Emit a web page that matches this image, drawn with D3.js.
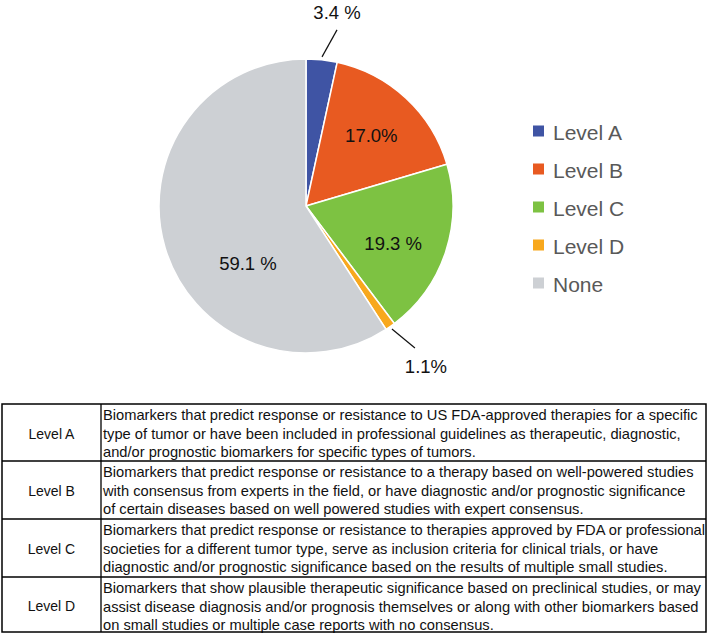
<!DOCTYPE html>
<html>
<head>
<meta charset="utf-8">
<script src="https://cdn.jsdelivr.net/npm/d3@7"></script>
<style>
  body { margin: 0; background: #fff; }
  text { font-family: "Liberation Sans", Arial, sans-serif; }
</style>
</head>
<body>
<div id="chart"></div>
<script>
// Pie data
const levels = ['Level A', 'Level B', 'Level C', 'Level D', 'None']
const shares = [3.4, 17.0, 19.3, 1.1, 59.1]
const shareLabels = ['3.4 %', '17.0%', '19.3 %', '1.1%', '59.1 %']
const colors = ['#3f54a4', '#e85a21', '#7dc242', '#f8a81d', '#cdd0d4']

// Table text (as wrapped in the picture)
const tableLevels = ['Level A', 'Level B', 'Level C', 'Level D']
const tableLines = [
  ['Biomarkers that predict response or resistance to US FDA-approved therapies for a specific',
   'type of tumor or have been included in professional guidelines as therapeutic, diagnostic,',
   'and/or prognostic biomarkers for specific types of tumors.'],
  ['Biomarkers that predict response or resistance to a therapy based on well-powered studies',
   'with consensus from experts in the field, or have diagnostic and/or prognostic significance',
   'of certain diseases based on well powered studies with expert consensus.'],
  ['Biomarkers that predict response or resistance to therapies approved by FDA or professional',
   'societies for a different tumor type, serve as inclusion criteria for clinical trials, or have',
   'diagnostic and/or prognostic significance based on the results of multiple small studies.'],
  ['Biomarkers that show plausible therapeutic significance based on preclinical studies, or may',
   'assist disease diagnosis and/or prognosis themselves or along with other biomarkers based',
   'on small studies or multiple case reports with no consensus.']
]

const width = 709
const height = 636
const cx = 306, cy = 206, radius = 147

const svg = d3.select('#chart')
  .append('svg')
  .attr('width', width)
  .attr('height', height)

const pieData = levels.map((name, i) => ({ name, value: shares[i], label: shareLabels[i], color: colors[i] }))

const pie = d3.pie().value(d => d.value).sort(null)
const arc = d3.arc().innerRadius(0).outerRadius(radius)
const arcs = pie(pieData)

const g = svg.append('g').attr('transform', `translate(${cx},${cy})`)

g.selectAll('path')
  .data(arcs)
  .enter().append('path')
  .attr('d', arc)
  .attr('fill', d => d.data.color)
  .attr('stroke', '#fff')
  .attr('stroke-width', 1.5)

// Label placement: inside ones at a fraction of the radius,
// small slices get a leader line from the rim and the label outside
const labelLayout = {
  'Level A': { outside: true, r: 150, lineDx: 15, lineDy: -27, textDx: 15, textDy: -44 },
  'Level B': { r: 96, dx: 0, dy: 0 },
  'Level C': { r: 96, dx: -4, dy: 7 },
  'Level D': { outside: true, r: 150, lineDx: 23, lineDy: 19, textDx: 34, textDy: 38 },
  'None': { r: 96, dx: 34, dy: 30 }
}

arcs.forEach(d => {
  const lay = labelLayout[d.data.name]
  const mid = (d.startAngle + d.endAngle) / 2
  const sx = Math.sin(mid), sy = -Math.cos(mid)
  let tx, ty
  if (lay.outside) {
    const x1 = sx * lay.r, y1 = sy * lay.r
    g.append('line')
      .attr('x1', x1).attr('y1', y1)
      .attr('x2', x1 + lay.lineDx).attr('y2', y1 + lay.lineDy)
      .attr('stroke', '#111').attr('stroke-width', 1.2)
    tx = x1 + lay.textDx
    ty = y1 + lay.textDy
  } else {
    tx = sx * lay.r + lay.dx
    ty = sy * lay.r + lay.dy
  }
  g.append('text')
    .attr('x', tx)
    .attr('y', ty)
    .attr('text-anchor', 'middle')
    .attr('dominant-baseline', 'central')
    .attr('font-size', 18.5)
    .attr('fill', '#111')
    .text(d.data.label)
})

// Legend
const legendY = d3.scalePoint().domain(levels).range([131, 283])
const legend = svg.append('g')
  .selectAll('g')
  .data(pieData)
  .enter().append('g')
  .attr('transform', d => `translate(533, ${legendY(d.name)})`)

legend.append('rect')
  .attr('x', 0).attr('y', -5.5)
  .attr('width', 11).attr('height', 11)
  .attr('fill', d => d.color)

legend.append('text')
  .attr('x', 20)
  .attr('y', 1)
  .attr('dominant-baseline', 'central')
  .attr('font-size', 21)
  .attr('fill', '#595959')
  .text(d => d.name)

// Table
const rowEdges = [404, 461, 519, 577, 632]
const tableLeft = 2, tableRight = 706, colDivider = 101
const textLeft = colDivider + 2
const table = svg.append('g')

tableLevels.forEach((lvl, i) => {
  const top = rowEdges[i], bottom = rowEdges[i + 1]
  table.append('text')
    .attr('x', (tableLeft + colDivider) / 2)
    .attr('y', (top + bottom) / 2 + 1)
    .attr('text-anchor', 'middle')
    .attr('dominant-baseline', 'central')
    .attr('font-size', 14)
    .attr('fill', '#111')
    .text(lvl)

  table.append('g')
    .selectAll('text')
    .data(tableLines[i])
    .enter().append('text')
    .attr('class', 'desc')
    .attr('x', textLeft)
    .attr('y', (d, j) => top + 11 + 18.5 * j)
    .attr('dominant-baseline', 'central')
    .attr('font-size', 14.5)
    .attr('fill', '#111')
    .text(d => d)
})

// The source uses a narrow font; squeeze lines so the longest one fits the cell
const descNodes = table.selectAll('text.desc').nodes()
const longest = d3.max(descNodes, n => n.getComputedTextLength())
const squeeze = (tableRight - 1 - textLeft) / longest
descNodes.forEach(n => {
  const w = n.getComputedTextLength()
  d3.select(n).attr('textLength', w * squeeze).attr('lengthAdjust', 'spacingAndGlyphs')
})

table.append('rect')
  .attr('x', tableLeft).attr('y', rowEdges[0])
  .attr('width', tableRight - tableLeft)
  .attr('height', rowEdges[rowEdges.length - 1] - rowEdges[0])
  .attr('fill', 'none')
  .attr('stroke', '#000')
  .attr('stroke-width', 1.5)

table.append('line')
  .attr('x1', colDivider).attr('x2', colDivider)
  .attr('y1', rowEdges[0]).attr('y2', rowEdges[rowEdges.length - 1])
  .attr('stroke', '#000').attr('stroke-width', 1.3)

rowEdges.slice(1, -1).forEach(y => {
  table.append('line')
    .attr('x1', tableLeft).attr('x2', tableRight)
    .attr('y1', y).attr('y2', y)
    .attr('stroke', '#000').attr('stroke-width', 1.5)
})
</script>
</body>
</html>
